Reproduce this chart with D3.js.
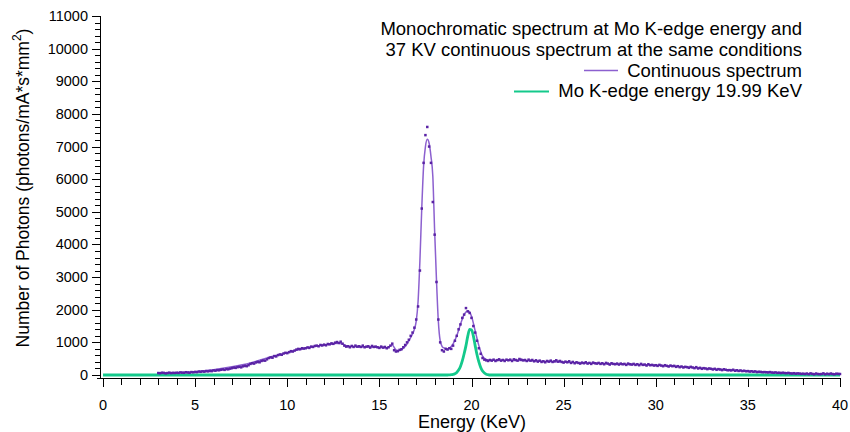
<!DOCTYPE html>
<html><head><meta charset="utf-8">
<script src="https://cdn.jsdelivr.net/npm/d3@7"></script>
<style>body{margin:0;background:#fff}svg{display:block;font-family:"Liberation Sans",Arial,sans-serif}</style>
</head><body><svg id="c" width="850" height="432"></svg>
<script>
// ---- DATA ----
const xTicks = [0,5,10,15,20,25,30,35,40];
const yTicks = [0,1000,2000,3000,4000,5000,6000,7000,8000,9000,10000,11000];
const dotStart = 3.0, dotStep = 0.1;
// continuous spectrum measured points, 3.0 .. 40.0 KeV every 0.1 KeV
const contDots = [
 60,55,70,65,50,60,72,58,66,62,
 70,64,80,72,68,85,76,70,90,82,
 95,88,105,98,110,102,120,112,125,118,
 140,132,150,145,160,170,158,180,175,195,
 210,225,218,240,250,235,265,280,270,300,
 340,360,350,385,400,390,430,445,440,480,
 520,540,530,580,570,610,630,620,660,680,
 670,700,730,720,750,780,800,790,820,810,
 820,845,830,870,860,890,900,880,920,905,
 930,910,950,940,970,955,990,1010,980,1020,
 960,900,870,880,850,890,860,900,870,880,
 860,900,850,870,880,840,890,860,870,850,
 830,870,840,860,820,850,900,960,760,720,
 730,770,790,850,920,1000,1080,1200,1300,1450,
 1700,2100,3200,5100,6500,7350,7600,7000,6500,5300,
 4300,2850,1700,1000,760,720,800,780,820,800,
 900,1050,1200,1400,1550,1750,1850,2050,1950,1900,
 1750,1500,1300,1050,820,650,520,470,450,430,
 460,440,470,430,455,480,440,460,430,470,
 450,470,430,480,460,440,490,470,450,460,
 430,470,440,460,420,450,410,440,400,420,
 390,430,410,440,400,420,450,410,430,400,
 380,410,390,420,370,400,360,390,370,350,
 380,360,390,350,370,340,380,360,350,370,
 340,360,330,370,350,320,360,340,330,350,
 320,350,330,340,310,350,330,320,340,310,
 330,300,340,310,320,290,330,300,310,290,
 300,280,310,290,270,300,280,260,290,270,
 280,250,270,240,260,230,250,240,220,250,
 230,210,240,200,220,190,210,200,180,200,
 190,170,190,160,180,170,150,175,160,145,
 150,140,160,130,145,125,140,120,130,115,
 120,105,115,100,110,90,100,95,85,90,
 85,80,90,75,70,80,65,70,60,70,
 60,55,65,50,45,55,40,50,45,35,
 40,30,45,25,50,35,20,45,30,25,
 30,50,20,40,25,45,30,20,40,35,
 30
];
// smoothed continuous spectrum curve
const fitEnergy = [3,4,5,6,7,8,9,10,10.5,11,11.5,12,12.5,12.8,13,13.2,13.5,14,14.5,15,15.4,15.7,15.9,16.1,16.3,16.5,16.7,16.9,17,17.1,17.2,17.3,17.4,17.5,17.6,17.7,17.8,17.9,18,18.1,18.2,18.3,18.4,18.5,18.6,18.7,18.8,18.9,19,19.2,19.4,19.6,19.8,19.9,20,20.2,20.4,20.6,20.8,21,22,23,24,25,26,27,28,29,30,31,32,33,34,35,36,37,38,39,40];
const fitValue  = [55,70,100,160,250,370,540,680,760,830,880,920,955,975,950,900,870,860,855,845,835,920,770,750,820,950,1150,1400,1650,2250,3500,5100,6400,7000,7220,7100,6700,6100,4400,2900,1650,1050,880,830,810,800,820,870,950,1200,1550,1850,1960,1930,1800,1350,900,580,480,455,455,440,415,395,370,350,330,320,300,270,230,190,150,115,85,60,40,25,25];
// Mo K-edge monochromatic line
const moEnergy = [0,18.7,18.8,18.9,19,19.1,19.2,19.3,19.4,19.5,19.6,19.7,19.8,19.9,20,20.1,20.2,20.3,20.4,20.5,20.6,20.7,20.8,20.9,21,40];
const moValue  = [0,0,5,10,20,40,80,150,260,430,650,900,1200,1400,1380,1200,900,620,400,230,120,60,25,10,0,0];

const titleLines = ["Monochromatic spectrum at Mo K-edge energy and","37 KV continuous spectrum at the same conditions"];
const seriesNames = ["Continuous spectrum","Mo K-edge energy 19.99 KeV"];

// ---- DRAW ----
const svg = d3.select("#c");
const x = d3.scaleLinear().domain([0,40]).range([103,840]);
const y = d3.scaleLinear().domain([0,11000]).range([375,16]);
const axY = 378, axX = 100;
const purpleDot = "#5a23a5", purpleLine = "#8c60cf", green = "#14c98b";

// axes lines
const ax = svg.append("g").attr("stroke","#000").attr("stroke-width",1).attr("shape-rendering","crispEdges");
ax.append("line").attr("x1",axX+0.5).attr("x2",axX+0.5).attr("y1",y(11000)).attr("y2",axY+0.5);
ax.append("line").attr("x1",axX-3).attr("x2",x(40)+0.5).attr("y1",axY+0.5).attr("y2",axY+0.5);
// y ticks
d3.range(0,11001,200).forEach(v=>{
  const major = v%1000===0;
  const yy = Math.round(y(v))+0.5;
  ax.append("line").attr("x1",axX-(major?8:5)).attr("x2",axX).attr("y1",yy).attr("y2",yy);
});
// x ticks
d3.range(0,41,1).forEach(v=>{
  const major = v%5===0;
  const xx = Math.round(x(v))+0.5;
  ax.append("line").attr("x1",xx).attr("x2",xx).attr("y1",axY).attr("y2",axY+(major?9:7));
});
svg.append("g").selectAll("text").data(yTicks).join("text")
  .attr("x",axX-12).attr("y",d=>y(d)+5).attr("text-anchor","end")
  .attr("font-size",14.5).text(d=>d);
svg.append("g").selectAll("text").data(xTicks).join("text")
  .attr("x",d=>x(d)).attr("y",410).attr("text-anchor","middle")
  .attr("font-size",14.5).text(d=>d);
svg.append("text").attr("x",472).attr("y",428).attr("text-anchor","middle").attr("font-size",18).text("Energy (KeV)");
const yl = svg.append("text").attr("transform","translate(29,188) rotate(-90)").attr("text-anchor","middle").attr("font-size",17.5);
yl.append("tspan").text("Number of Photons (photons/mA*s*mm");
yl.append("tspan").attr("dy",-8).attr("font-size",12).text("2");
yl.append("tspan").attr("dy",8).text(")");

// Mo line
svg.append("path").datum(moEnergy.map((e,i)=>[e,moValue[i]]))
  .attr("fill","none").attr("stroke",green).attr("stroke-width",2.8)
  .attr("d",d3.line().x(d=>x(d[0])).y(d=>y(d[1])).curve(d3.curveMonotoneX));
// continuous fit line
svg.append("path").datum(fitEnergy.map((e,i)=>[e,fitValue[i]]))
  .attr("fill","none").attr("stroke",purpleLine).attr("stroke-width",1.5)
  .attr("d",d3.line().x(d=>x(d[0])).y(d=>y(d[1])).curve(d3.curveMonotoneX));
// dots
svg.append("g").attr("fill",purpleDot).selectAll("rect").data(contDots).join("rect")
  .attr("x",(d,i)=>x(dotStart+i*dotStep)-1.25).attr("y",d=>y(d)-1.25).attr("width",2.5).attr("height",2.5);

// title + legend
const tg = svg.append("g").attr("font-size",18.5).attr("text-anchor","end");
titleLines.forEach((t,i)=>tg.append("text").attr("x",802).attr("y",34.5+i*21).text(t));
tg.append("text").attr("x",802).attr("y",77).text(seriesNames[0]);
tg.append("text").attr("x",802).attr("y",97).text(seriesNames[1]);
svg.append("line").attr("x1",584).attr("x2",618).attr("y1",70.5).attr("y2",70.5).attr("stroke",purpleLine).attr("stroke-width",1.5);
svg.append("line").attr("x1",514).attr("x2",549).attr("y1",91.5).attr("y2",91.5).attr("stroke",green).attr("stroke-width",2);
</script></body></html>
